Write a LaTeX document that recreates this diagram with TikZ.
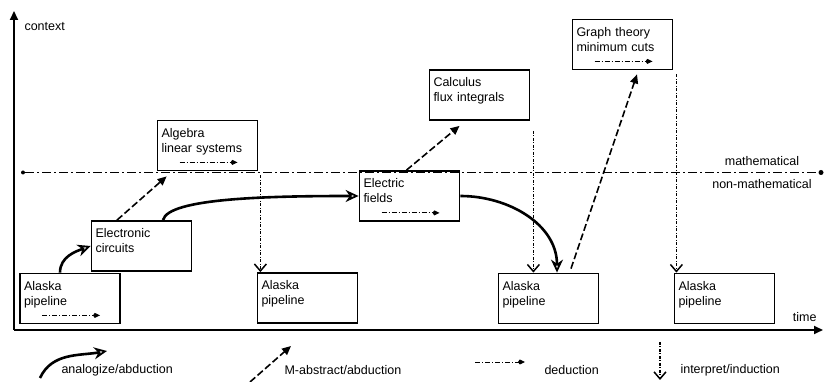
\documentclass[tikz,border=0pt]{standalone}
\usepackage{fontspec}
\setmainfont{Liberation Sans}
\usetikzlibrary{arrows.meta}

\begin{document}
\begin{tikzpicture}[
	x=1pt, y=1pt,
	font=\fontsize{12.5}{15}\selectfont,
	stagebox/.style={draw, line width=1.8pt, rectangle, minimum width=100pt, minimum height=50pt, text width=92pt, inner xsep=4pt, align=left, text depth=26pt},
	analog/.style={-{Stealth[open, length=13pt, width=12pt, line width=1.8pt]}, line width=2.6pt},
	abstract/.style={-{Triangle[length=9pt, width=8pt]}, line width=1.6pt, dash pattern=on 7pt off 3pt},
	deduct/.style={-{Kite[length=7pt, width=5pt]}, line width=0.9pt, dash pattern=on 5pt off 2pt on 1pt off 2pt},
	induct/.style={-{Straight Barb[length=7pt, width=12pt, line width=1.5pt]}, line width=0.8pt, dash pattern=on 3pt off 1.5pt on 1pt off 1.5pt},
	axisline/.style={-{Triangle[length=9pt, width=8pt]}, line width=1.8pt},
	enddot/.style={circle, fill=black, inner sep=0pt, minimum size=5pt},
	divider/.style={line width=0.9pt, dash pattern=on 9pt off 3pt on 2pt off 3pt}
	]
	\useasboundingbox (0,0) rectangle (825,382);
	
	% Axes
	\coordinate (origin) at (14,52);
	\coordinate (y_end) at (14,371);
	\coordinate (x_end) at (823,52);
	\draw[axisline] (origin) -- (y_end);
	\draw[axisline] (origin) -- (x_end);
	\node[anchor=west] (context_label) at (21,355) {context};
	\node[anchor=east] (time_label) at (820,65) {time};
	
	% Mathematical / non-mathematical divider
	\node[enddot, minimum size=4pt] (math_left) at (23,209.5) {};
	\node[enddot] (math_right) at (821,209.5) {};
	\draw[divider] (math_left) -- (math_right);
	\node (math_label) at (762,221) {mathematical};
	\node (nonmath_label) at (762,198) {non-mathematical};
	
	% Nodes
	\node[stagebox] (alaska_1) at (70,83.5) {Alaska\\pipeline};
	\node[stagebox] (electronic) at (141.5,136) {Electronic\\circuits};
	\node[stagebox] (algebra) at (207.5,236.5) {Algebra\\linear systems};
	\node[stagebox] (alaska_2) at (307.5,84) {Alaska\\pipeline};
	\node[stagebox] (electric) at (409.5,186) {Electric\\fields};
	\node[stagebox] (calculus) at (479.5,287) {Calculus\\flux integrals};
	\node[stagebox] (alaska_3) at (548.5,83.5) {Alaska\\pipeline};
	\node[stagebox] (graph) at (622.5,337.5) {Graph theory\\minimum cuts};
	\node[stagebox] (alaska_4) at (724.5,83.5) {Alaska\\pipeline};
	
	% Connections
	\draw[analog] ([xshift=-10pt]alaska_1.north) to[out=90, in=200] (electronic.west);
	\draw[analog] ([xshift=21.5pt]electronic.north) .. controls +(5,22) and +(-90,0) .. (electric.west);
	\draw[analog] (electric.east) to[out=0, in=90] ([xshift=8.5pt]alaska_3.north);
	
	\draw[abstract] ([xshift=-24.5pt]electronic.north) -- ([shift={(10pt,-5pt)}]algebra.south west);
	\draw[abstract] ([xshift=-3pt]electric.north) -- ([shift={(-20pt,-5pt)}]calculus.south);
	\draw[abstract] ([shift={(22.5pt,4pt)}]alaska_3.north) -- ([shift={(14.5pt,-4pt)}]graph.south);
	
	\draw[induct, shorten <=4pt] ([xshift=2pt]algebra.south east) -- ([xshift=2pt]algebra.south east |- alaska_2.north);
	\draw[induct, shorten <=10pt] ([xshift=3pt]calculus.south east) -- ([xshift=3pt]calculus.south east |- alaska_3.north);
	\draw[induct, shorten <=4pt] ([xshift=3pt]graph.south east) -- ([xshift=3pt]graph.south east |- alaska_4.north);
	
	\foreach \stage in {alaska_1, algebra, electric, graph}
		\draw[deduct] ([shift={(-28pt,9pt)}]\stage.south) -- ([shift={(30pt,9pt)}]\stage.south);
	
	% Legend
	\coordinate (analog_start) at (40,4);
	\coordinate (analog_end) at (107,31);
	\draw[analog] (analog_start) to[out=65, in=190] (analog_end);
	\node[anchor=west] (analog_label) at (58,12) {analogize/abduction};
	
	\coordinate (abstract_start) at (250,0);
	\coordinate (abstract_end) at (291,36);
	\draw[abstract] (abstract_start) -- (abstract_end);
	\node[anchor=west] (abstract_label) at (281,12) {M-abstract/abduction};
	
	\coordinate (deduct_start) at (475,20);
	\coordinate (deduct_end) at (525,20);
	\draw[deduct] (deduct_start) -- (deduct_end);
	\node[anchor=west] (deduct_label) at (541,12) {deduction};
	
	\coordinate (induct_start) at (660,40);
	\coordinate (induct_end) at (660,2);
	\draw[induct, line width=1.6pt] (induct_start) -- (induct_end);
	\node[anchor=west] (induct_label) at (677,12) {interpret/induction};
	
\end{tikzpicture}
\end{document}
